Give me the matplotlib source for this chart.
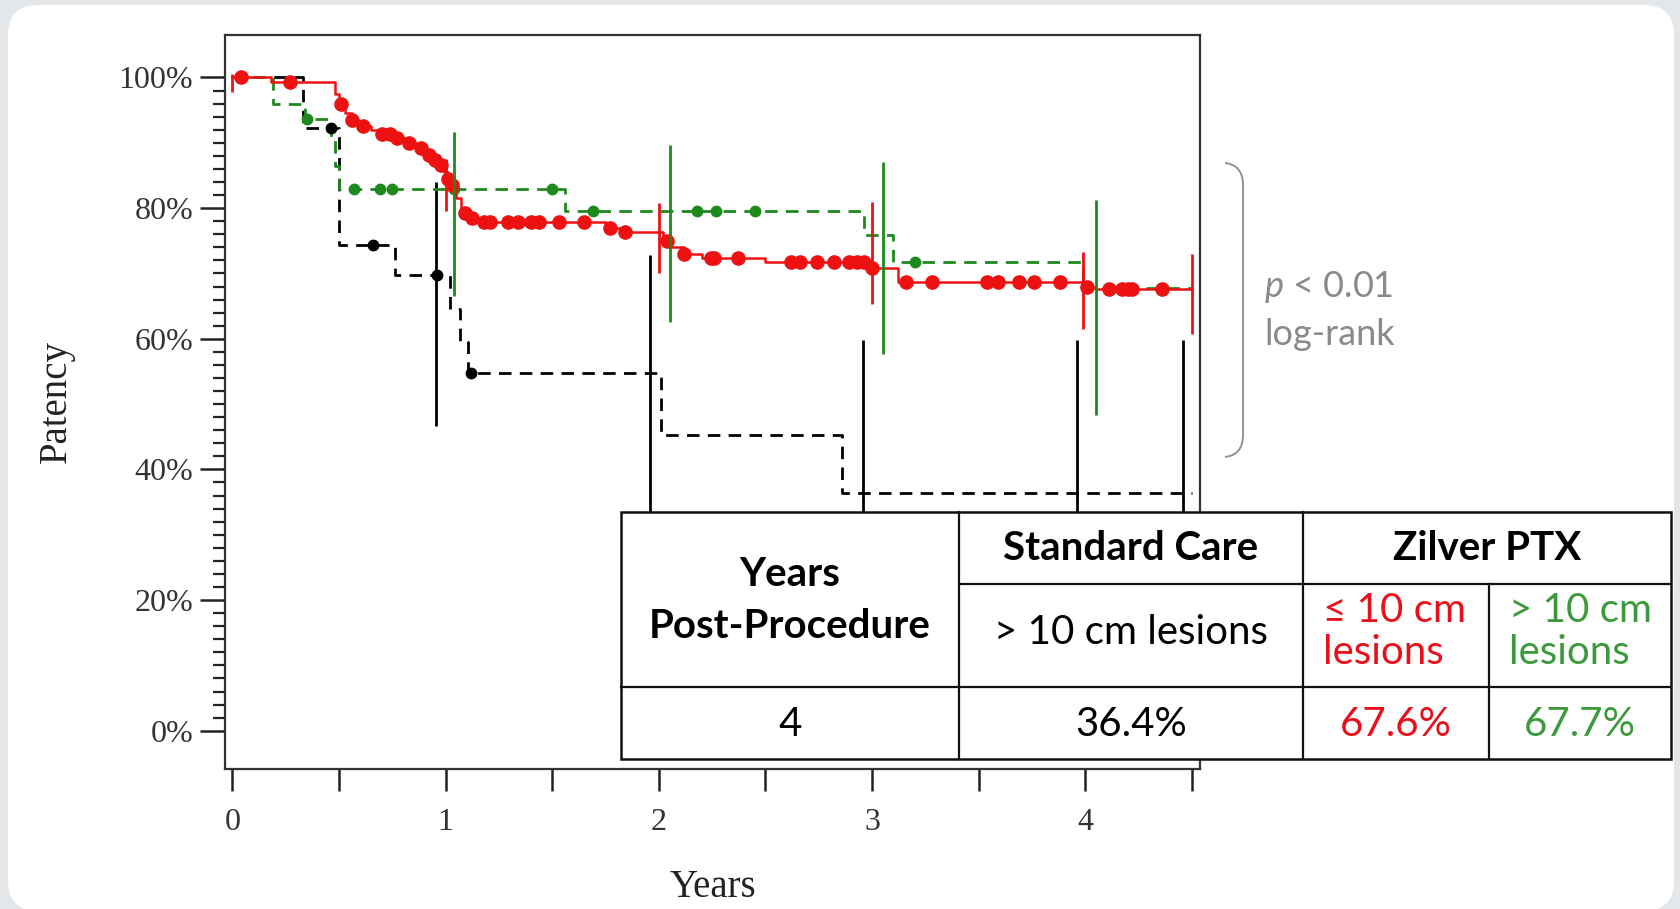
import numpy as np
import matplotlib
matplotlib.use("Agg")
import matplotlib.pyplot as plt
from matplotlib.patches import FancyBboxPatch, Rectangle, PathPatch
from matplotlib.path import Path
from matplotlib.lines import Line2D

plt.rcParams['mathtext.fontset'] = 'custom'
plt.rcParams['mathtext.it'] = 'Lato:italic'
plt.rcParams['mathtext.rm'] = 'Lato'

# ---- Kaplan-Meier data (years, patency %) ----
red_t = [0, 0.18, 0.48, 0.50, 0.53, 0.56, 0.59, 0.65, 0.69, 0.76, 0.81, 0.86, 0.90, 0.93,
         0.96, 0.99, 1.01, 1.03, 1.05, 1.07, 1.09, 1.11, 1.15, 1.75, 1.82, 2.02, 2.05, 2.12,
         2.20, 2.50, 3.00, 3.12, 4.00, 4.05, 4.50]
red_s = [100, 99.3, 97.5, 95.9, 94.5, 93.5, 92.6, 92.0, 91.4, 90.7, 90.0, 89.2, 88.2, 87.4,
         86.6, 85.5, 84.5, 83.5, 81.5, 80.0, 79.2, 78.5, 77.9, 77.0, 76.4, 75.0, 74.0, 73.0,
         72.3, 71.8, 70.8, 68.7, 68.0, 67.6, 67.6]
red_cens = [0.04, 0.27, 0.51, 0.56, 0.61, 0.70, 0.74, 0.77, 0.83, 0.885, 0.92, 0.95, 0.98,
            1.01, 1.03, 1.09, 1.125, 1.18, 1.21, 1.29, 1.34, 1.40, 1.44, 1.53, 1.65, 1.77,
            1.84, 2.04, 2.12, 2.245, 2.26, 2.37, 2.62, 2.66, 2.74, 2.82, 2.89, 2.93, 2.96,
            3.0, 3.16, 3.28, 3.54, 3.59, 3.69, 3.76, 3.88, 4.01, 4.11, 4.17, 4.2, 4.22, 4.36]

green_t = [0, 0.19, 0.34, 0.46, 0.48, 0.50, 1.56, 2.96, 3.10, 3.99, 4.50]
green_s = [100, 96.0, 93.6, 90.5, 86.5, 82.9, 79.5, 75.9, 71.7, 67.7, 67.7]
green_cens = [0.35, 0.57, 0.69, 0.75, 1.04, 1.50, 1.69, 2.18, 2.27, 2.45, 3.20]

black_t = [0, 0.33, 0.50, 0.76, 1.02, 1.067, 1.105, 2.01, 2.86, 4.50]
black_s = [100, 92.3, 74.4, 69.7, 64.6, 59.5, 54.7, 45.3, 36.4, 36.4]
black_cens = [0.46, 0.66, 0.96, 1.12]

# confidence bars
red_ci_t = [0.0, 1.0, 2.0, 3.0, 3.99, 4.5]
red_ci_lo = [97.7, 79.5, 70.0, 65.3, 61.5, 60.8]
red_ci_hi = [100.6, 87.5, 80.8, 81.0, 73.3, 72.9]
green_ci_t = [1.04, 2.05, 3.05, 4.05]
green_ci_lo = [66.6, 62.5, 57.6, 48.4]
green_ci_hi = [91.7, 89.6, 87.0, 81.3]
black_ci_t = [0.955, 1.957, 2.957, 3.96, 4.46]
black_ci_lo = [46.6, 20, 20, 20, 20]
black_ci_hi = [84.0, 72.8, 59.8, 59.8, 59.8]

# table
col_head = ["Standard Care", "Zilver PTX"]
sub_head = ["> 10 cm lesions", ["\u2264 10 cm", "lesions"], ["> 10 cm", "lesions"]]
row_year = "4"
row_vals = ["36.4%", "67.6%", "67.7%"]

RED = '#ee1111'
GREEN = '#1e8a1e'
RED_TXT = '#e8101a'
GREEN_TXT = '#3c9a3c'

W, H = 1680, 909
fig = plt.figure(figsize=(W / 100, H / 100), dpi=100)
fig.patch.set_facecolor('#e4e7ea')


def fx(x):
    return x / W


def fy(y):
    return 1 - y / H


# white card
card = FancyBboxPatch((fx(8), fy(911)), fx(1674) - fx(8), fy(5) - fy(911),
                      boxstyle="round,pad=0,rounding_size=0.018",
                      transform=fig.transFigure, facecolor='white', edgecolor='none',
                      mutation_aspect=W / H, zorder=0)
fig.add_artist(card)

ax = fig.add_axes([fx(225), fy(769), fx(1200) - fx(225), fy(35) - fy(769)])
ax.set_facecolor('none')
ax.set_xlim(-0.035, 4.538)
ax.set_ylim(-5.86, 106.5)


def km_at(t, s, c):
    idx = np.searchsorted(t, c, side='right') - 1
    return np.array(s)[idx]


dash = (0, (4.5, 3))
ax.step(black_t, black_s, where='post', color='black', lw=2, linestyle=dash, zorder=3)
ax.plot(black_cens, km_at(black_t, black_s, black_cens), 'o', color='black', ms=7.5, zorder=4)
ax.vlines(black_ci_t, black_ci_lo, black_ci_hi, color='black', lw=2, zorder=3)

ax.step(green_t, green_s, where='post', color=GREEN, lw=2, linestyle=dash, zorder=3)
ax.plot(green_cens, km_at(green_t, green_s, green_cens), 'o', color=GREEN, ms=7.5, zorder=4)

ax.step(red_t, red_s, where='post', color=RED, lw=1.8, zorder=5)
ax.plot(red_cens, km_at(red_t, red_s, red_cens), 'o', color=RED, ms=9.5, zorder=5)
ax.vlines(red_ci_t, red_ci_lo, red_ci_hi, color=RED, lw=2, zorder=5)
ax.vlines(green_ci_t, green_ci_lo, green_ci_hi, color=GREEN, lw=2, zorder=6)

serif = 'Liberation Serif'
ax.set_yticks(np.arange(0, 101, 20))
ax.set_yticklabels([f"{v}%" for v in range(0, 101, 20)], family=serif, fontsize=23, color='#333333')
ax.set_yticks(np.arange(0, 101, 2), minor=True)
ax.set_xticks(np.arange(0, 5))
ax.set_xticklabels([str(v) for v in range(5)], family=serif, fontsize=23, color='#333333')
ax.set_xticks(np.arange(0.5, 4.6, 1.0), minor=True)
ax.tick_params(axis='y', which='major', length=18, width=1.8, pad=5, color='#222222')
ax.tick_params(axis='y', which='minor', length=9, width=1.6, color='#222222')
ax.tick_params(axis='x', which='both', length=16, width=1.8, pad=12, color='#222222')
for sp in ax.spines.values():
    sp.set_linewidth(1.6)
    sp.set_color('#333333')

ax.set_ylabel("Patency", family=serif, fontsize=28, color='#222222', va='center')
ax.yaxis.set_label_coords(-0.173, 0.5)
ax.set_xlabel("Years", family=serif, fontsize=28, color='#222222', va='center')
ax.xaxis.set_label_coords(0.5, -0.161)

# p-value bracket
bx0, bx1, by0, by1 = 1225, 1243, 163, 457
verts = [(bx0, by0), (bx1, by0 + 2), (bx1, by0 + 22), (bx1, by0 + 24),
         (bx1, by1 - 24), (bx1, by1 - 22), (bx1, by1 - 2), (bx0, by1)]
codes = [Path.MOVETO, Path.CURVE3, Path.CURVE3, Path.LINETO,
         Path.LINETO, Path.LINETO, Path.CURVE3, Path.CURVE3]
brace = Path([(fx(a), fy(b)) for a, b in verts], codes)
fig.add_artist(PathPatch(brace, transform=fig.transFigure, facecolor='none',
                         edgecolor='#8c8c8c', lw=1.3))
fig.text(fx(1264), fy(287), r"$\mathit{p}$ < 0.01", fontsize=26, color='#8a8a8a',
         family='Lato', va='center', ha='left')
fig.text(fx(1264), fy(334), "log-rank", fontsize=26, color='#8a8a8a',
         family='Lato', va='center', ha='left')

# table
tl, tr, tt, tb = 621, 1671, 512, 759
c1, c2, c3 = 959, 1303, 1489
r1, r2 = 584, 687
fig.add_artist(Rectangle((fx(tl), fy(tb)), fx(tr) - fx(tl), fy(tt) - fy(tb),
                         transform=fig.transFigure, facecolor='white',
                         edgecolor='#111111', lw=1.8, zorder=10))


def hline(x0, x1, y):
    fig.add_artist(Line2D([fx(x0), fx(x1)], [fy(y), fy(y)], transform=fig.transFigure,
                          color='#111111', lw=1.6, zorder=11))


def vline(x, y0, y1):
    fig.add_artist(Line2D([fx(x), fx(x)], [fy(y0), fy(y1)], transform=fig.transFigure,
                          color='#111111', lw=1.6, zorder=11))


vline(c1, tt, tb)
vline(c2, tt, tb)
vline(c3, r1, tb)
hline(c1, tr, r1)
hline(tl, tr, r2)

tk = dict(family='Lato', fontsize=29, va='center', zorder=12)
fig.text(fx((tl + c1) / 2), fy(574), "Years", ha='center', weight='bold', **tk)
fig.text(fx((tl + c1) / 2), fy(627), "Post-Procedure", ha='center', weight='bold', **tk)
fig.text(fx((c1 + c2) / 2), fy(549), col_head[0], ha='center', weight='bold', **tk)
fig.text(fx((c2 + tr) / 2), fy(549), col_head[1], ha='center', weight='bold', **tk)
fig.text(fx((c1 + c2) / 2), fy(633), sub_head[0], ha='center', **tk)
fig.text(fx(c2 + 20), fy(611), sub_head[1][0], ha='left', color=RED_TXT, **tk)
fig.text(fx(c2 + 20), fy(653), sub_head[1][1], ha='left', color=RED_TXT, **tk)
fig.text(fx(c3 + 20), fy(611), sub_head[2][0], ha='left', color=GREEN_TXT, **tk)
fig.text(fx(c3 + 20), fy(653), sub_head[2][1], ha='left', color=GREEN_TXT, **tk)
fig.text(fx((tl + c1) / 2), fy(724), row_year, ha='center', **tk)
fig.text(fx((c1 + c2) / 2), fy(724), row_vals[0], ha='center', **tk)
fig.text(fx((c2 + c3) / 2), fy(724), row_vals[1], ha='center', color=RED_TXT, **tk)
fig.text(fx((c3 + tr) / 2), fy(724), row_vals[2], ha='center', color=GREEN_TXT, **tk)

fig.savefig("out.png", dpi=100, facecolor=fig.get_facecolor())
